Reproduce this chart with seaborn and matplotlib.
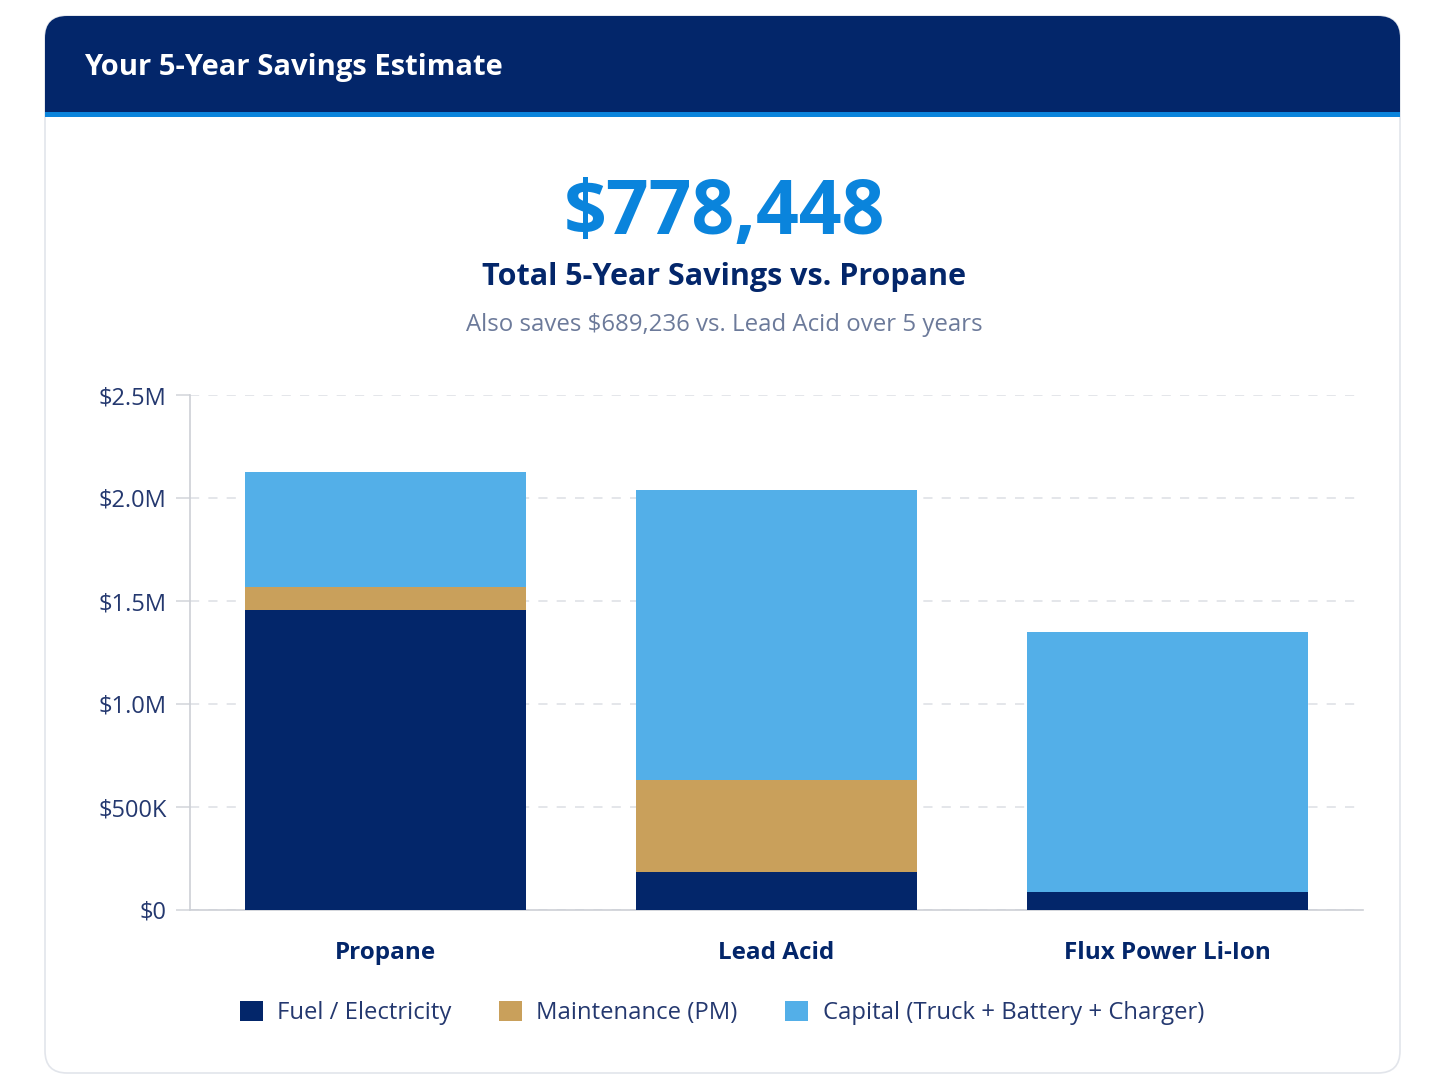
import numpy as np
import pandas as pd
import matplotlib
matplotlib.use('Agg')
import matplotlib.pyplot as plt
import seaborn as sns
from matplotlib.patches import FancyBboxPatch, Rectangle, Patch
from matplotlib.ticker import FuncFormatter

# data (dollars)
categories = ['Propane', 'Lead Acid', 'Flux Power Li-Ion']
fuel = [1456000, 185000, 88000]
maintenance = [112000, 447000, 0]
capital = [558000, 1407000, 1262000]
series_names = ['Fuel / Electricity', 'Maintenance (PM)', 'Capital (Truck + Battery + Charger)']
yticks = [0, 500000, 1000000, 1500000, 2000000, 2500000]

navy = '#03266A'
gold = '#C9A05B'
sky = '#53AFE8'
bright = '#0A84DC'
label_col = '#24386F'

sns.set_theme(style='white')
plt.rcParams['font.family'] = ['Open Sans', 'DejaVu Sans']

df = pd.DataFrame({'cat': categories, 'fuel': fuel, 'maint': maintenance, 'cap': capital})
df['fm'] = df['fuel'] + df['maint']
df['total'] = df['fm'] + df['cap']

W, H = 1448, 1086
fig = plt.figure(figsize=(W / 100, H / 100), dpi=100)
fig.patch.set_facecolor('white')

# background card in pixel coords
bg = fig.add_axes([0, 0, 1, 1], zorder=0)
bg.set_xlim(0, W)
bg.set_ylim(H, 0)
bg.axis('off')
card = FancyBboxPatch((45, 16), 1355, 1057, boxstyle='round,pad=0,rounding_size=22',
                      fc='white', ec='#E2E5EB', lw=1.2)
bg.add_patch(card)
hdr = FancyBboxPatch((45, 16), 1355, 96, boxstyle='round,pad=0,rounding_size=22',
                     fc=navy, ec='none')
bg.add_patch(hdr)
bg.add_patch(Rectangle((45, 60), 1355, 52, fc=navy, ec='none'))
bg.add_patch(Rectangle((45, 112), 1355, 5, fc=bright, ec='none'))
bg.text(84, 68, 'Your 5-Year Savings Estimate', color='white', fontsize=21,
        fontweight='bold', va='center', ha='left')

bg.text(724, 214, '$778,448', color=bright, fontsize=54, fontweight='bold',
        ha='center', va='center')
bg.text(724, 277, 'Total 5-Year Savings vs. Propane', color=navy, fontsize=22,
        fontweight='bold', ha='center', va='center')
bg.text(724, 325, 'Also saves $689,236 vs. Lead Acid over 5 years', color='#6C7A9A',
        fontsize=17.3, ha='center', va='center')

# chart
ax = fig.add_axes([190 / W, (H - 910) / H, 1173 / W, 515 / H], zorder=1)
ax.patch.set_alpha(0)
sns.barplot(data=df, x='cat', y='total', color=sky, width=0.72, saturation=1, ax=ax,
            zorder=3, linewidth=0)
sns.barplot(data=df, x='cat', y='fm', color=gold, width=0.72, saturation=1, ax=ax,
            zorder=3, linewidth=0)
sns.barplot(data=df, x='cat', y='fuel', color=navy, width=0.72, saturation=1, ax=ax,
            zorder=3, linewidth=0)

ax.set_xlim(-0.5, 2.5)
ax.set_ylim(0, 2500000)
ax.set_yticks(yticks)


def money(v, pos):
    if v == 0:
        return '$0'
    if v < 1000000:
        return '$%dK' % (v / 1000)
    return '$%.1fM' % (v / 1000000)


ax.yaxis.set_major_formatter(FuncFormatter(money))
ax.grid(axis='y', color='#DDDFE4', linestyle=(0, (6, 6)), linewidth=1.1, zorder=0)
ax.set_axisbelow(True)
for s in ['top', 'right']:
    ax.spines[s].set_visible(False)
ax.spines['left'].set_color('#CDD0D6')
ax.spines['bottom'].set_color('#CDD0D6')
ax.spines['left'].set_linewidth(1.2)
ax.spines['bottom'].set_linewidth(1.2)
ax.tick_params(axis='y', length=10, color='#D5D8DD', width=1.2, labelsize=17,
               labelcolor=label_col, pad=7, left=True)
ax.tick_params(axis='x', length=0, labelsize=17.5, labelcolor=navy, pad=22)
for t in ax.get_xticklabels():
    t.set_fontweight('bold')
ax.set_xlabel('')
ax.set_ylabel('')

handles = [Patch(fc=c, ec='none') for c in [navy, gold, sky]]
leg = fig.legend(handles, series_names, loc='center', bbox_to_anchor=(722 / W, (H - 1013) / H),
                 ncol=3, frameon=False, fontsize=17.2, handlelength=0.95, handleheight=0.95,
                 columnspacing=2.0, handletextpad=0.6)
for t in leg.get_texts():
    t.set_color(label_col)

fig.savefig('out.png', dpi=100, facecolor='white')
